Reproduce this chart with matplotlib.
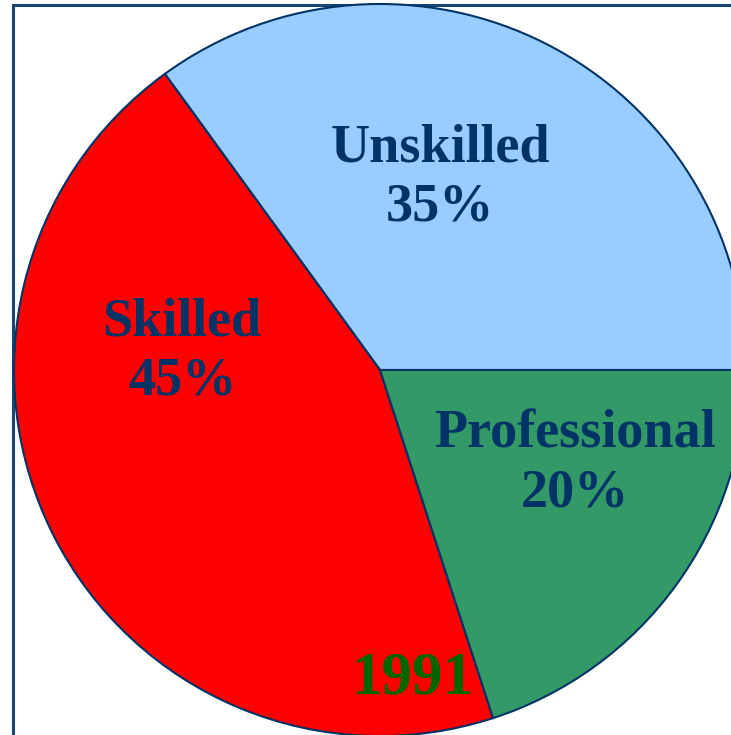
import matplotlib.pyplot as plt
from matplotlib.patches import Rectangle

# data
labels = ['Unskilled', 'Skilled', 'Professional']
shares = [35, 45, 20]
colors = ['#99CCFF', '#FF0000', '#339966']
year = '1991'

W, H = 731, 735
fig = plt.figure(figsize=(W / 100, H / 100), dpi=100)
ax = fig.add_axes([0, 0, 1, 1])

# frame behind the pie
ax.add_patch(Rectangle((13, -20), 900, H - 5 + 20, fill=False,
                       edgecolor='#1A4673', linewidth=2.2, zorder=0))

cx, cy, r = 380, H - 370, 366
ax.pie(shares, colors=colors, startangle=0, counterclock=True,
       center=(cx, cy), radius=r,
       wedgeprops=dict(edgecolor='#003366', linewidth=1.5))

font = dict(family=['Liberation Serif', 'DejaVu Serif'], weight='bold')
pos = [(440, H - 178), (182, H - 352), (575, H - 464)]
for (x, y), lab, s in zip(pos, labels, shares):
    ax.text(x, y, '%s\n%d%%' % (lab, s), ha='center', va='center',
            fontsize=39, color='#003366', linespacing=1.25, **font)

ax.text(412, H - 678, year, ha='center', va='center', fontsize=44,
        color='#006600', **font)

ax.set_xlim(0, W)
ax.set_ylim(0, H)
ax.set_aspect('equal')
ax.axis('off')
plt.savefig('out.png', dpi=100)
